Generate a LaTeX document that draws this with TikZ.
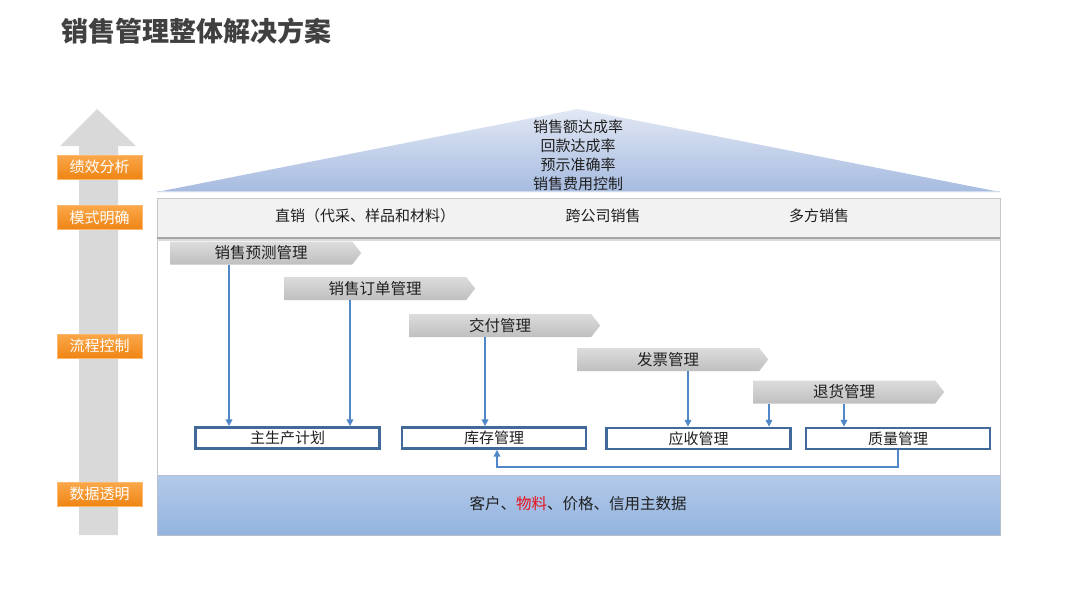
\documentclass[tikz,border=0pt]{standalone}
\usepackage{fontspec}
\setmainfont{Noto Sans CJK SC}
\usetikzlibrary{shapes.symbols,arrows.meta,calc}
\definecolor{titlegray}{HTML}{404040}
\definecolor{txt}{HTML}{1F1F1F}
\definecolor{shaftgray}{HTML}{D9D9D9}
\definecolor{orangeT}{HTML}{FBA84A}
\definecolor{orangeB}{HTML}{EF8414}
\definecolor{roofT}{HTML}{E2E8F4}
\definecolor{roofB}{HTML}{A6BBE0}
\definecolor{modefill}{HTML}{F2F2F2}
\definecolor{framegray}{HTML}{C6C6C6}
\definecolor{modeline}{HTML}{A6A6A6}
\definecolor{chevT}{HTML}{DCDCDC}
\definecolor{chevB}{HTML}{BFBFBF}
\definecolor{boxblue}{HTML}{41699A}
\definecolor{flowblue}{HTML}{4F87C8}
\definecolor{dataT}{HTML}{B3CAEA}
\definecolor{dataB}{HTML}{93B3DE}
\definecolor{redtxt}{HTML}{E8131B}
\begin{document}
\begin{tikzpicture}[x=1pt,y=-1pt,
  lbl/.style={minimum width=85pt,minimum height=24pt,inner sep=0pt,top color=orangeT,bottom color=orangeB,draw=orangeT!80!white,line width=0.4pt,text=white,font=\fontsize{15}{18}\selectfont},
  chev/.style={shape=signal,signal to=east,signal from=nowhere,signal pointer angle=104,minimum width=191pt,minimum height=23pt,inner sep=0pt,anchor=west,top color=chevT,bottom color=chevB,text=txt,font=\fontsize{15.5}{18}\selectfont},
  pbox/.style={draw=boxblue,line width=2.4pt,fill=white,minimum width=184pt,minimum height=21pt,inner sep=0pt,text=txt,font=\fontsize{15}{18}\selectfont},
  flow/.style={draw=flowblue,line width=2pt,-{Triangle[length=7pt,width=6.5pt]}},
  plain/.style={text=txt,font=\fontsize{15}{18}\selectfont,inner sep=0pt}
]
\useasboundingbox (0,0) rectangle (1080,608);
\fill[white] (0,0) rectangle (1080,608);

% title
\node[anchor=west,inner sep=0pt,text=titlegray,font=\fontsize{27}{31}\selectfont\bfseries] (title) at (61,31) {销售管理整体解决方案};

% left big arrow
\fill[shaftgray] (79,535) -- (79,146) -- (60,146) -- (97,109) -- (136,146) -- (118,146) -- (118,535) -- cycle;

% roof
\shade[top color=roofT,bottom color=roofB] (157,192) -- (578,109) -- (1000,192) -- cycle;
\fill[roofT!70!roofB] (157,190.5) rectangle (1000,192);
\node[plain,align=center,font=\fontsize{15}{19}\selectfont] (roof) at (578,155) {销售额达成率\\回款达成率\\预示准确率\\销售费用控制};

% main frame
\draw[framegray,line width=1pt,fill=white] (157,198) rectangle (1000,535);
\fill[modefill] (157,198) rectangle (1000,238);
\draw[framegray,line width=1pt] (157,198) rectangle (1000,238);
\draw[modeline,line width=1.6pt] (157,238) -- (1000,238);
\draw[modeline!40!white,line width=1.2pt] (157,240) -- (1000,240);
\node[plain] (m1) at (365,216) {直销（代采、样品和材料）};
\node[plain] (m2) at (603,216) {跨公司销售};
\node[plain] (m3) at (819,216) {多方销售};

% data bar
\shade[top color=dataT,bottom color=dataB] (157,475) rectangle (1000,535);
\draw[framegray!70!dataB,line width=0.6pt] (157,475) rectangle (1000,535);
\node[plain,font=\fontsize{15.5}{18}\selectfont] (data) at (578,504) {客户、\textcolor{redtxt}{物料}、价格、信用主数据};

% orange labels
\node[lbl] (l1) at (99.5,167) {绩效分析};
\node[lbl] (l2) at (99.5,217.5) {模式明确};
\node[lbl] (l3) at (99.5,346) {流程控制};
\node[lbl] (l4) at (99.5,494) {数据透明};

% process chevrons
\node[chev] (c1) at (170,253) {销售预测管理};
\node[chev] (c2) at (284,288.5) {销售订单管理};
\node[chev] (c3) at (409,325.5) {交付管理};
\node[chev] (c4) at (577,359.5) {发票管理};
\node[chev] (c5) at (753,392) {退货管理};

% boxes
\node[pbox] (b1) at (287.5,438) {主生产计划};
\node[pbox] (b2) at (494,438) {库存管理};
\node[pbox] (b3) at (698.5,438.5) {应收管理};
\node[pbox] (b4) at (898,438.5) {质量管理};

% connectors
\coordinate (a1) at ([xshift=59pt]c1.south west);
\coordinate (a2) at ([xshift=66pt]c2.south west);
\coordinate (a3) at ([xshift=76pt]c3.south west);
\coordinate (a4) at ([xshift=111pt]c4.south west);
\coordinate (a5) at ([xshift=16pt]c5.south west);
\coordinate (a6) at ([xshift=91pt]c5.south west);
\draw[flow] (a1) -- (a1 |- b1.north);
\draw[flow] (a2) -- (a2 |- b1.north);
\draw[flow] (a3) -- (a3 |- b2.north);
\draw[flow] (a4) -- (a4 |- b3.north);
\draw[flow] (a5) -- (a5 |- b3.north);
\draw[flow] (a6) -- (a6 |- b4.north);
\draw[flow] (b4.south) -- ++(0,17) -| ([xshift=3pt]b2.south);
\end{tikzpicture}
\end{document}
